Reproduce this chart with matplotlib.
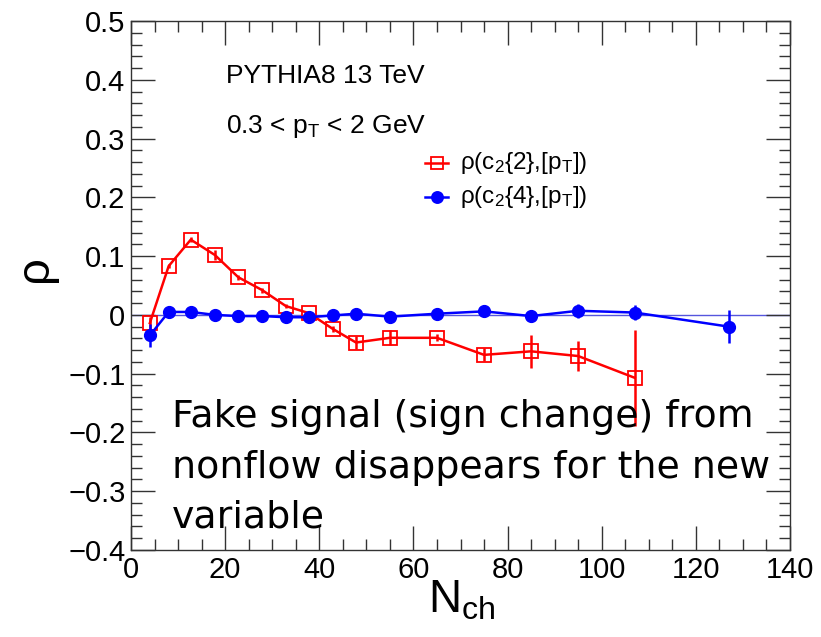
import matplotlib
matplotlib.use("Agg")
import matplotlib.pyplot as plt
from matplotlib.lines import Line2D
from matplotlib.ticker import MultipleLocator, FuncFormatter

plt.rcParams['font.family'] = ['Liberation Sans', 'DejaVu Sans']
plt.rcParams['mathtext.fontset'] = 'custom'
plt.rcParams['mathtext.rm'] = 'Liberation Sans'
plt.rcParams['mathtext.it'] = 'Liberation Sans'
plt.rcParams['mathtext.bf'] = 'Liberation Sans:bold'

# ---- data ----
nch_c22 = [4, 8, 12.7, 17.8, 22.8, 27.9, 32.9, 37.8, 42.9, 47.8, 55, 65, 75, 85, 95, 107]
rho_c22 = [-0.014, 0.083, 0.128, 0.102, 0.064, 0.042, 0.015, 0.003, -0.024, -0.047,
           -0.039, -0.039, -0.068, -0.062, -0.070, -0.107]
err_c22 = [0.010, 0.004, 0.004, 0.009, 0.004, 0.004, 0.004, 0.004, 0.005, 0.011,
           0.013, 0.006, 0.011, 0.028, 0.025, 0.082]

nch_c24 = [4, 8, 12.7, 17.8, 22.8, 27.9, 32.9, 37.8, 42.9, 47.8, 55, 65, 75, 85, 95, 107, 127]
rho_c24 = [-0.035, 0.005, 0.005, 0.0, -0.002, -0.002, -0.004, -0.004, -0.001, 0.002,
           -0.003, 0.002, 0.006, -0.002, 0.007, 0.004, -0.020]
err_c24 = [0.020, 0.003, 0.003, 0.003, 0.003, 0.003, 0.003, 0.003, 0.003, 0.003,
           0.003, 0.003, 0.009, 0.005, 0.012, 0.013, 0.028]

label_c22 = r'$\mathrm{\rho(c_2\{2\}{,}[p_T])}$'
label_c24 = r'$\mathrm{\rho(c_2\{4\}{,}[p_T])}$'
note_lines = ["Fake signal (sign change) from",
              "nonflow disappears for the new",
              "variable"]

W, H = 821, 637
fig = plt.figure(figsize=(W / 100, H / 100), dpi=100)
ax = fig.add_axes([131 / W, 1 - 550 / H, (790 - 131) / W, (550 - 21) / H])

ax.set_xlim(0, 140)
ax.set_ylim(-0.4, 0.5)

ax.axhline(0, color='#5555dd', lw=1.0, zorder=1)

ax.errorbar(nch_c22, rho_c22, yerr=err_c22, color='#ff0000', lw=1.8, elinewidth=1.8,
            capsize=0, marker='s', markersize=9.5, markerfacecolor='none',
            markeredgecolor='#ff0000', markeredgewidth=1.3, zorder=3)
ax.errorbar(nch_c24, rho_c24, yerr=err_c24, color='#0000ff', lw=1.8, elinewidth=1.8,
            capsize=0, marker='o', markersize=8.5, markerfacecolor='#0000ff',
            markeredgecolor='#0000ff', zorder=4)

ax.xaxis.set_major_locator(MultipleLocator(20))
ax.xaxis.set_minor_locator(MultipleLocator(5))
ax.yaxis.set_major_locator(MultipleLocator(0.1))
ax.yaxis.set_minor_locator(MultipleLocator(0.02))

def yfmt(v, pos):
    if abs(v) < 1e-9:
        return "0"
    return f"{v:.1f}".replace("-", "\u2212")

ax.yaxis.set_major_formatter(FuncFormatter(yfmt))
ax.xaxis.set_major_formatter(FuncFormatter(lambda v, p: f"{int(round(v))}"))

ax.tick_params(which='both', direction='in', top=True, right=True, color='#333333', width=1)
ax.tick_params(which='major', length=17, labelsize=21, pad=4)
ax.tick_params(which='minor', length=8)
for s in ax.spines.values():
    s.set_color('#333333')
    s.set_linewidth(1.0)

# axis titles
fig.text(40 / W, 1 - 272 / H, r'$\mathrm{\rho}$', fontsize=34, rotation=90, ha='center', va='center')
fig.text(462 / W, 1 - 613 / H, r'$\mathrm{N_{ch}}$', fontsize=33, ha='center', va='baseline')

# labels
fig.text(226 / W, 1 - 83 / H, "PYTHIA8 13 TeV", fontsize=19, va='baseline')
fig.text(226 / W, 1 - 133 / H, r'0.3 < $\mathrm{p_T}$ < 2 GeV', fontsize=19, va='baseline')

# legend (manual)
for (yl, col, mk, mfc, lab) in [(163, '#ff0000', 's', 'none', label_c22),
                                 (197, '#0000ff', 'o', '#0000ff', label_c24)]:
    ln = Line2D([425 / W, 448 / W], [1 - yl / H, 1 - yl / H], transform=fig.transFigure,
                color=col, lw=1.8)
    fig.add_artist(ln)
    mkr = Line2D([436.5 / W], [1 - yl / H], transform=fig.transFigure, marker=mk,
                 markersize=8, markerfacecolor=mfc, markeredgecolor=col, markeredgewidth=1.3,
                 linestyle='none')
    fig.add_artist(mkr)
    fig.text(460 / W, 1 - yl / H, lab, fontsize=17.5, va='center')

# annotation
for t, yb in zip(note_lines, [427, 478, 528]):
    fig.text(172 / W, 1 - yb / H, t, fontsize=27.3, family=['DejaVu Sans'], va='baseline')

fig.savefig("out.png", dpi=100)
